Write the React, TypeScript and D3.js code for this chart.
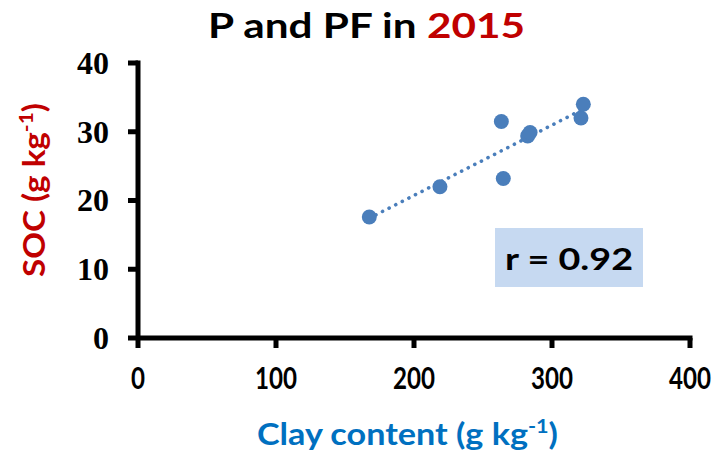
import React from "react";
import * as d3 from "d3";

const clay = [167.6, 218.8, 263.3, 264.7, 282.4, 284.1, 321.0, 322.7];
const soc = [17.6, 22.0, 31.5, 23.2, 29.4, 29.9, 32.0, 34.0];
const xTicks = [0, 100, 200, 300, 400];
const yTicks = [0, 10, 20, 30, 40];
const rLabel = "r = 0.92";

const W = 723, H = 458;
const M = { left: 138, right: 690, top: 63, bottom: 338 };
const BLUE = "#4a7ebb";
const SANS = "Lato, 'Open Sans', sans-serif";
const SW = 5;

export default function App() {
  const x = d3.scaleLinear().domain([0, 400]).range([M.left, M.right]);
  const y = d3.scaleLinear().domain([0, 40]).range([M.bottom, M.top]);
  const pts = clay.map((c, i) => [c, soc[i]] as [number, number]);
  const mx = d3.mean(clay)!, my = d3.mean(soc)!;
  const sxy = d3.sum(pts, p => (p[0] - mx) * (p[1] - my));
  const sxx = d3.sum(pts, p => (p[0] - mx) ** 2);
  const slope = sxy / sxx, icpt = my - slope * mx;
  const [x0, x1] = d3.extent(clay) as [number, number];
  const line = d3.line<number>().x(v => x(v)).y(v => y(icpt + slope * v));

  return (
    <svg width={W} height={H} style={{ position: "absolute", left: 0, top: 0, background: "#fff" }}>
      <text x={208} y={38} textLength={317} lengthAdjust="spacingAndGlyphs" fontFamily={SANS} fontWeight="bold" fontSize={35} fill="#000">
        P and PF in <tspan fill="#c00000">2015</tspan>
      </text>
      {/* axes */}
      <line x1={M.left} x2={M.left} y1={M.top - SW / 2} y2={M.bottom} stroke="#000" strokeWidth={SW} />
      <line x1={M.left} x2={M.right + SW / 2} y1={M.bottom} y2={M.bottom} stroke="#000" strokeWidth={SW} />
      {yTicks.map(t => (
        <g key={"y" + t}>
          <line x1={M.left - 10} x2={M.left} y1={y(t)} y2={y(t)} stroke="#000" strokeWidth={SW} />
          <text x={109} y={y(t)} dy="0.34em" textAnchor="end" fontFamily="'Liberation Serif', 'Times New Roman', serif" fontWeight="bold" fontSize={32}>{t}</text>
        </g>
      ))}
      {xTicks.map(t => (
        <g key={"x" + t}>
          <line x1={x(t)} x2={x(t)} y1={M.bottom} y2={M.bottom + 10} stroke="#000" strokeWidth={SW} />
          <text x={x(t)} y={389} textAnchor="middle" textLength={String(t).length * 14} lengthAdjust="spacingAndGlyphs" fontFamily={SANS} fontWeight="bold" fontSize={30}>{t}</text>
        </g>
      ))}
      {/* trendline */}
      <path d={line([x0, x1])!} fill="none" stroke={BLUE} strokeWidth={3.6} strokeDasharray="0.1 7.3" strokeLinecap="round" />
      {pts.map((p, i) => (
        <circle key={i} cx={x(p[0])} cy={y(p[1])} r={7.5} fill={BLUE} />
      ))}
      {/* r box */}
      <rect x={495} y={228} width={148} height={59} fill="#c6d9f1" />
      <text x={505} y={270} textLength={128} lengthAdjust="spacingAndGlyphs" fontFamily={SANS} fontWeight="bold" fontSize={30.5}>{rLabel}</text>
      {/* axis titles */}
      <text x={257} y={445} textLength={301} lengthAdjust="spacingAndGlyphs" fontFamily={SANS} fontWeight="bold" fontSize={30} fill="#0070c0">
        Clay content (g kg<tspan dy={-12} fontSize={19}>-1</tspan><tspan dy={12}>)</tspan>
      </text>
      <text transform={`translate(45,277) rotate(-90)`} textLength={174} lengthAdjust="spacingAndGlyphs" fontFamily={SANS} fontWeight="bold" fontSize={30} fill="#c00000">
        SOC (g kg<tspan dy={-12} fontSize={19}>-1</tspan><tspan dy={12}>)</tspan>
      </text>
    </svg>
  );
}
